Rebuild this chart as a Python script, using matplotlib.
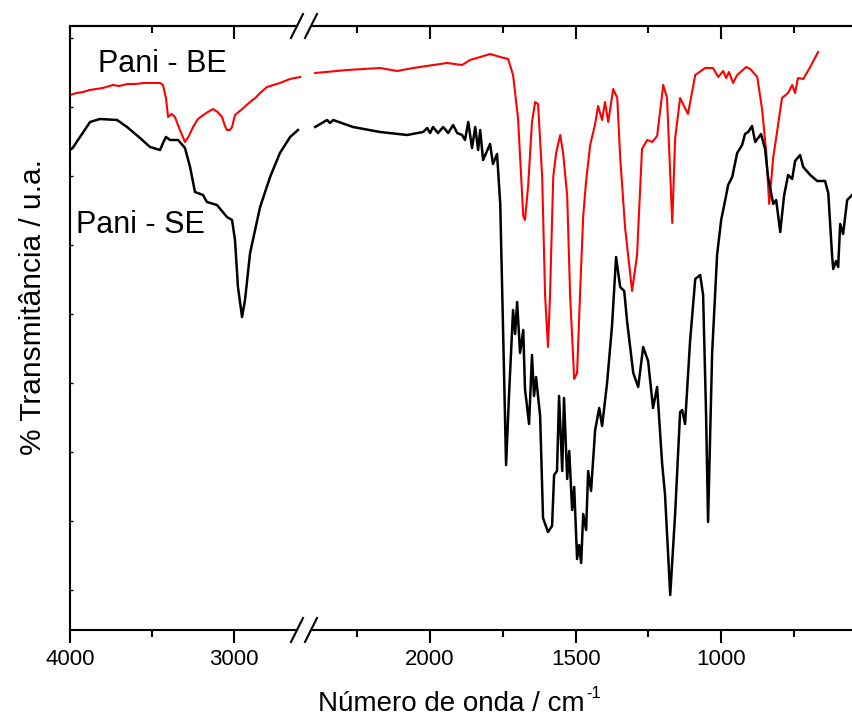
import numpy as np
import matplotlib
matplotlib.use("Agg")
import matplotlib.pyplot as plt
from matplotlib.lines import Line2D
from matplotlib.patches import Rectangle

plt.rcParams['font.family'] = ['Liberation Sans', 'DejaVu Sans']

# ---- data (wavenumber cm-1, transmittance a.u.) ----
# region 4000 - 2600
be_wn_hi = [4000, 3960, 3920, 3880, 3840, 3800, 3738, 3700, 3650, 3600, 3550, 3500,
            3451, 3433, 3415, 3402, 3380, 3360, 3330, 3299, 3275, 3250, 3220, 3195,
            3160, 3128, 3100, 3073, 3055, 3043, 3025, 3012, 2994, 2950, 2902, 2870,
            2841, 2799, 2760, 2720, 2690, 2658, 2630, 2597]
be_t_hi = [533, 535, 536, 538, 539, 540, 543, 542, 544, 544, 545, 545,
           545, 543, 530, 511, 514, 511, 498, 486, 492, 501, 509, 512,
           516, 519, 516, 511, 502, 498, 498, 501, 513, 519, 526, 530,
           535, 541, 543, 545, 547, 549, 550, 551]

se_wn_hi = [4000, 3984, 3939, 3878, 3817, 3713, 3652, 3573, 3512, 3451, 3433, 3415,
            3390, 3341, 3299, 3268, 3238, 3189, 3165, 3104, 3043, 3012, 2994, 2976,
            2951, 2933, 2902, 2841, 2780, 2720, 2658, 2610]
se_t_hi = [478, 480, 491, 506, 509, 508, 501, 490, 481, 478, 485, 491,
           488, 488, 480, 461, 436, 433, 426, 423, 411, 408, 388, 341,
           311, 328, 375, 421, 451, 475, 491, 498]

# region 2400 - 550
be_wn_lo = [2395, 2285, 2172, 2113, 2058, 1942, 1890, 1863, 1828, 1794, 1759, 1732,
            1715, 1698, 1680, 1674, 1663, 1650, 1639, 1629, 1615, 1605, 1595, 1588,
            1577, 1567, 1553, 1543, 1529, 1519, 1505, 1495, 1485, 1474, 1464, 1450,
            1433, 1423, 1409, 1399, 1388, 1371, 1357, 1347, 1330, 1306, 1289, 1272,
            1254, 1237, 1220, 1199, 1186, 1168, 1158, 1141, 1114, 1089, 1055, 1028,
            1010, 993, 983, 973, 959, 945, 914, 900, 876, 859, 845, 835,
            821, 811, 791, 770, 756, 746, 736, 718, 694, 667]
be_t_lo = [555, 558, 560, 557, 560, 565, 563, 568, 571, 574, 571, 569,
           553, 510, 412, 408, 443, 506, 526, 524, 451, 333, 281, 333,
           451, 475, 493, 475, 432, 333, 249, 255, 333, 412, 447, 483,
           504, 522, 508, 526, 506, 539, 530, 471, 400, 337, 373, 479,
           488, 486, 492, 543, 530, 405, 490, 530, 514, 553, 560, 560,
           551, 557, 550, 556, 545, 553, 561, 559, 551, 518, 475, 424,
           471, 490, 530, 535, 543, 535, 550, 549, 561, 576]

se_wn_lo = [2395, 2354, 2344, 2333, 2265, 2172, 2079, 2024, 2010, 2000, 1990, 1973,
            1955, 1938, 1921, 1907, 1890, 1880, 1869, 1856, 1845, 1835, 1828, 1818,
            1794, 1784, 1770, 1759, 1749, 1739, 1729, 1715, 1708, 1701, 1691, 1680,
            1674, 1660, 1650, 1643, 1636, 1622, 1612, 1595, 1581, 1574, 1564, 1557,
            1546, 1540, 1529, 1522, 1512, 1505, 1495, 1488, 1481, 1474, 1464, 1457,
            1447, 1433, 1419, 1409, 1392, 1375, 1361, 1347, 1333, 1323, 1302, 1285,
            1268, 1251, 1234, 1220, 1203, 1193, 1175, 1158, 1141, 1134, 1124, 1107,
            1089, 1072, 1062, 1052, 1045, 1031, 1014, 1000, 986, 976, 962, 945,
            928, 918, 907, 894, 883, 873, 863, 849, 839, 821, 811, 797,
            784, 770, 756, 746, 729, 718, 694, 670, 643, 632, 619, 615,
            605, 598, 591, 581, 567, 550]
se_t_lo = [501, 508, 505, 508, 501, 496, 493, 496, 500, 495, 501, 495,
           501, 495, 503, 495, 493, 488, 506, 480, 501, 478, 498, 468,
           484, 464, 474, 424, 294, 163, 232, 318, 294, 326, 275, 298,
           239, 204, 273, 232, 251, 212, 110, 96, 102, 153, 157, 232,
           157, 230, 149, 177, 118, 141, 69, 83, 65, 114, 98, 157,
           137, 198, 220, 202, 245, 302, 371, 341, 337, 306, 255, 241,
           281, 267, 220, 241, 165, 134, 33, 115, 216, 218, 204, 286,
           349, 353, 333, 216, 106, 275, 373, 408, 428, 443, 451, 475,
           483, 494, 496, 502, 486, 490, 494, 479, 451, 424, 428, 396,
           432, 453, 449, 467, 473, 461, 453, 447, 447, 435, 373, 359,
           367, 361, 404, 394, 428, 433]

labels = ['Pani - BE', 'Pani - SE']
colors = ['#ff0000', '#000000']

W, H = 853, 718
fig = plt.figure(figsize=(W / 100, H / 100), dpi=100)

def fx(px):
    return px / W

def fy(py):
    return 1 - py / H

x0, xb, x1 = 70, 307, 853
ytop, ybot = 26, 630
ax1 = fig.add_axes([fx(x0), fy(ybot), fx(xb - x0), fy(ytop) - fy(ybot)])
ax2 = fig.add_axes([fx(xb), fy(ybot), fx(x1 - xb) + 0.01, fy(ytop) - fy(ybot)])

ax1.plot(be_wn_hi, be_t_hi, color=colors[0], lw=1.5)
ax1.plot(se_wn_hi, se_t_hi, color=colors[1], lw=1.8)
ax2.plot(be_wn_lo, be_t_lo, color=colors[0], lw=1.5)
ax2.plot(se_wn_lo, se_t_lo, color=colors[1], lw=1.8)

ax1.set_xlim(4000, 2555)
ax2.set_xlim(2423, 547 - 0.01 * W * 3.436)
for ax in (ax1, ax2):
    ax.set_ylim(-2, 602)
    for s in ax.spines.values():
        s.set_linewidth(1.5)

ax1.spines['right'].set_visible(False)
ax2.spines['left'].set_visible(False)
ax2.spines['right'].set_visible(False)

ax1.set_xticks([4000, 3000])
ax1.set_xticks([3500], minor=True)
ax2.set_xticks([2000, 1500, 1000])
ax2.set_xticks([2250, 1750, 1250, 750], minor=True)

for ax in (ax1, ax2):
    ax.tick_params(axis='x', which='major', direction='out', length=9, width=1.5,
                   labelsize=16, pad=5)
    ax.tick_params(axis='x', which='minor', direction='out', length=5, width=1.5)
    sec = ax.secondary_xaxis('top')
    sec.set_xticks(ax.get_xticks())
    sec.set_xticks(ax.get_xticks(minor=True), minor=True)
    sec.tick_params(axis='x', which='major', direction='in', length=9, width=1.5,
                    labeltop=False)
    sec.tick_params(axis='x', which='minor', direction='in', length=5, width=1.5)
    sec.spines['top'].set_linewidth(1.5)

ax1.set_yticks(np.arange(38, 600, 69))
ax1.set_yticklabels([])
ax1.tick_params(axis='y', direction='in', length=2.5, width=1)
ax2.tick_params(axis='y', left=False, labelleft=False)

ax1.set_ylabel('% Transmitância / u.a.', fontsize=21.5)
ax1.yaxis.set_label_coords(-0.095, 0.535)

# x label with a plain hyphen superscript
fig.text(fx(318), fy(704), 'Número de onda / cm', fontsize=20, ha='left', va='center')
fig.text(fx(586), fy(694), '-1', fontsize=12, ha='left', va='center')

ax1.text(3830, 564, labels[0], fontsize=22, va='center')
ax1.text(3965, 403, labels[1], fontsize=22, va='center')

# axis break marks
for yb in (ytop, ybot):
    fig.add_artist(Rectangle((fx(298), fy(yb) - 0.006), fx(12), 0.012,
                             transform=fig.transFigure, color='white', zorder=5))
    for xc in (297, 311):
        fig.add_artist(Line2D([fx(xc - 6), fx(xc + 6)], [fy(yb + 12), fy(yb - 12)],
                              transform=fig.transFigure, color='black', lw=1.5, zorder=6))

fig.savefig('out.png', dpi=100)
